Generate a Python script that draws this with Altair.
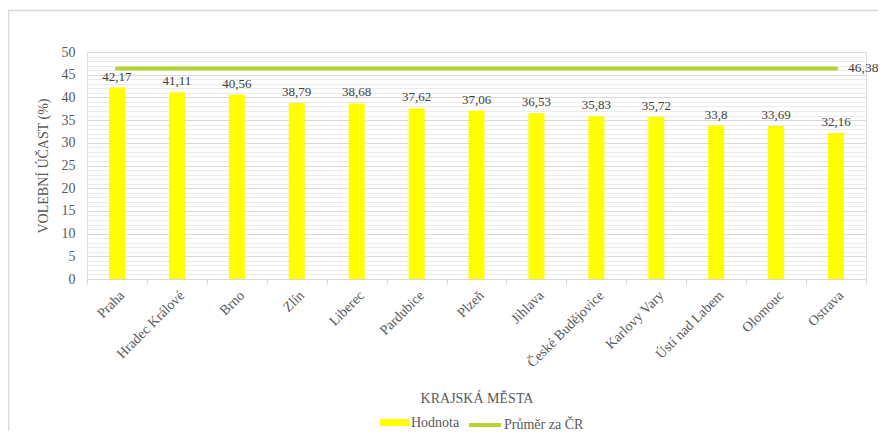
import altair as alt
import pandas as pd

cities = ["Praha", "Hradec Králové", "Brno", "Zlín", "Liberec", "Pardubice", "Plzeň",
          "Jihlava", "České Budějovice", "Karlovy Vary", "Ústí nad Labem", "Olomouc", "Ostrava"]
values = [42.17, 41.11, 40.56, 38.79, 38.68, 37.62, 37.06, 36.53, 35.83, 35.72, 33.8, 33.69, 32.16]
avg_value = 46.38
series_bar = "Hodnota"
series_line = "Průměr za ČR"
y_major = [0, 5, 10, 15, 20, 25, 30, 35, 40, 45, 50]
y_minor = [v for v in range(0, 51) if v % 5 != 0]

n = len(cities)
df = pd.DataFrame({
    "city": cities,
    "value": values,
    "label": [f"{v:g}".replace(".", ",") for v in values],
    "avg": [avg_value] * n,
    "avg_label": [""] * (n - 1) + [f"{avg_value:g}".replace(".", ",")],
    "s_bar": [series_bar] * n,
    "s_line": [series_line] * n,
})

FONT = "Liberation Serif, Times New Roman, serif"
TXT = "#595959"

x_enc = alt.X("city:N", sort=cities,
              scale=alt.Scale(paddingInner=0, paddingOuter=0),
              axis=alt.Axis(title="KRAJSKÁ MĚSTA", labelAngle=-45, labelAlign="right",
                            labelBaseline="top", labelFont=FONT, labelFontSize=14,
                            labelColor=TXT, labelPadding=4, tickBand="extent",
                            ticks=True, tickSize=5, tickColor="#d9d9d9",
                            domainColor="#d9d9d9", titleFont=FONT, titleFontSize=14,
                            titleFontWeight="normal", titleColor=TXT, titleY=112,
                            grid=False))
y_scale = alt.Scale(domain=[0, 50], nice=False)

base = alt.Chart(df)

bars = base.mark_bar(size=16).encode(
    x=x_enc,
    y=alt.Y("value:Q", scale=y_scale,
            axis=alt.Axis(title="VOLEBNÍ ÚČAST (%)", values=y_major, grid=True,
                          gridColor="#d9d9d9", domain=False, ticks=False,
                          labelFont=FONT, labelFontSize=14, labelColor=TXT,
                          labelPadding=12, titleFont=FONT, titleFontSize=14,
                          titleFontWeight="normal", titleColor=TXT, titlePadding=11)),
    fill=alt.Fill("s_bar:N", scale=alt.Scale(domain=[series_bar], range=["#FFFF00"]),
                  legend=alt.Legend(title=None, orient="none", legendX=293, legendY=356,
                                    symbolType="M-1,-0.24H1V0.24H-1Z", symbolSize=841,
                                    symbolStrokeWidth=0, labelOffset=2, padding=0,
                                    labelFont=FONT, labelFontSize=14, labelColor=TXT)),
)

bar_labels = base.mark_text(dy=-7, baseline="alphabetic", font=FONT, fontSize=13,
                            color="#404040").encode(
    x=alt.X("city:N", sort=cities),
    y=alt.Y("value:Q", scale=y_scale, axis=None),
    text="label:N",
)

line = base.mark_line(strokeWidth=4, strokeCap="round").encode(
    x=alt.X("city:N", sort=cities),
    y=alt.Y("avg:Q", scale=y_scale,
            axis=alt.Axis(orient="right", title=None, values=y_minor, grid=True,
                          gridColor="#ebebeb", labels=False, ticks=False, domain=False)),
    stroke=alt.Stroke("s_line:N", scale=alt.Scale(domain=[series_line], range=["#B5D334"]),
                      legend=alt.Legend(title=None, orient="none", legendX=380, legendY=355,
                                        symbolType="stroke", symbolSize=1024,
                                        symbolStrokeWidth=4, labelOffset=1, padding=0,
                                        labelFont=FONT, labelFontSize=14, labelColor=TXT)),
)

avg_text = base.mark_text(dx=12, align="left", baseline="middle", font=FONT, fontSize=13.5,
                          color="#404040").encode(
    x=alt.X("city:N", sort=cities),
    y=alt.Y("avg:Q", scale=y_scale, axis=None),
    text="avg_label:N",
)

frame = alt.Chart(alt.Data(values=[{"a": 1}])).mark_rect(
    fillOpacity=0, stroke="#d9d9d9", strokeWidth=1.5).encode(
    x=alt.value(-78.5), x2=alt.value(900), y=alt.value(-41.5), y2=alt.value(500))

chart = alt.layer(bars, bar_labels, line, avg_text, frame).resolve_axis(
    y="independent"
).resolve_scale(fill="independent", stroke="independent").properties(
    width=779, height=227,
    padding={"left": 79, "top": 44, "right": 12, "bottom": 152},
    autosize=alt.AutoSizeParams(type="none"),
).configure_view(stroke=None).configure(background="white")

chart.save("out.html", embed_options={"renderer": "svg", "actions": False})
